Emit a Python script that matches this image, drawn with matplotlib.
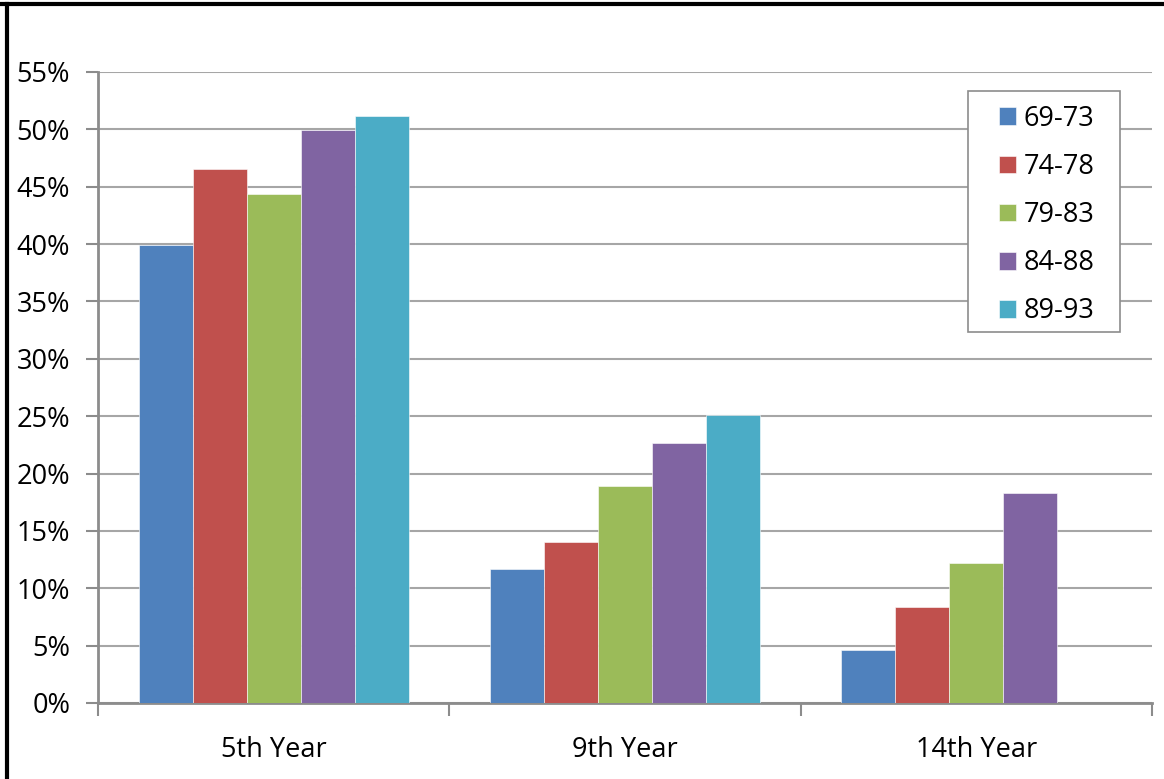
import matplotlib.pyplot as plt
from matplotlib.lines import Line2D
from matplotlib.patches import Rectangle
from matplotlib.ticker import PercentFormatter
import numpy as np

plt.rcParams['font.family'] = ['Open Sans', 'DejaVu Sans']

years = ["5th Year", "9th Year", "14th Year"]
cohorts = ["69-73", "74-78", "79-83", "84-88", "89-93"]
# share per cohort, one list per cohort (nan where no data)
c6973 = [0.399, 0.117, 0.046]
c7478 = [0.465, 0.140, 0.084]
c7983 = [0.444, 0.189, 0.122]
c8488 = [0.499, 0.227, 0.183]
c8993 = [0.512, 0.251, np.nan]
series = [c6973, c7478, c7983, c8488, c8993]
colors = ["#4F81BD", "#C0504D", "#9BBB59", "#8064A2", "#4BACC6"]

fs = 19.5

fig = plt.figure(figsize=(11.64, 7.79), dpi=100)
ax = fig.add_axes([0.0842, 0.0976, 0.9055, 0.81])

x = np.arange(len(years))
w = 1 / 6.5
for i, (vals, c) in enumerate(zip(series, colors)):
    ax.bar(x + (i - 2) * w, vals, w, color=c, label=cohorts[i],
           edgecolor="white", linewidth=0.4, zorder=3)

ax.set_xlim(-0.5, 2.5)
ax.set_ylim(0, 0.55)
ax.set_yticks(np.arange(0, 0.56, 0.05))
ax.yaxis.set_major_formatter(PercentFormatter(1.0, decimals=0))
ax.yaxis.grid(True, color="#a6a6a6", linewidth=1.5, zorder=0)

ax.set_xticks(x)
ax.set_xticklabels(years)
ax.set_xticks([-0.5, 0.5, 1.5, 2.5], minor=True)
ax.tick_params(axis="x", which="major", length=0, pad=24, labelsize=fs)
ax.tick_params(axis="x", which="minor", length=9, width=1.5, color="#8c8c8c")
ax.tick_params(axis="y", length=9, width=1.5, color="#8c8c8c", pad=11, labelsize=fs)

for s in ["top", "right"]:
    ax.spines[s].set_visible(False)
for s in ["left", "bottom"]:
    ax.spines[s].set_color("#8c8c8c")
    ax.spines[s].set_linewidth(2)

# legend box drawn separately so the padding can be uneven
ax.add_patch(Rectangle((0.8254, 0.588), 0.1442, 0.3819, transform=ax.transAxes,
                       facecolor="white", edgecolor="#8c8c8c", linewidth=1.2,
                       zorder=4, clip_on=False))
leg = ax.legend(loc="upper left", bbox_to_anchor=(0.8548, 0.948), fontsize=fs,
                frameon=False, handlelength=0.62, handleheight=0.62,
                handletextpad=0.3, labelspacing=0.745, borderpad=0,
                borderaxespad=0)
leg.set_zorder(5)

# outer frame lines on the top and left
fig.add_artist(Line2D([0, 1], [0.9945, 0.9945], color="black", linewidth=3, transform=fig.transFigure))
fig.add_artist(Line2D([0.0062, 0.0062], [0, 0.9945], color="black", linewidth=3, transform=fig.transFigure))

fig.savefig("out.png", dpi=100)
